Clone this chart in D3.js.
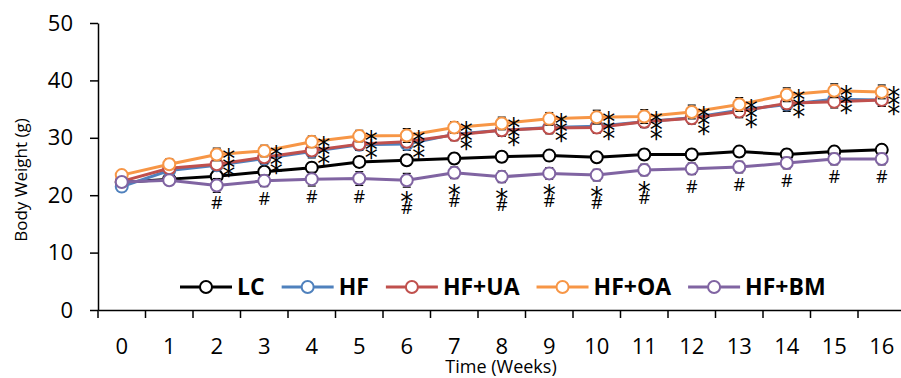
<!DOCTYPE html>
<html>
<head>
<meta charset="utf-8">
<script src="https://cdn.jsdelivr.net/npm/d3@7"></script>
<style>
  body { margin: 0; background: #fff; }
  text { font-family: "Open Sans", sans-serif; }
</style>
</head>
<body>
<div id="chart"></div>
<script>
// weeks on the x axis
var weeks = ["0","1","2","3","4","5","6","7","8","9","10","11","12","13","14","15","16"];
var yTicks = [0, 10, 20, 30, 40, 50];

// body weight (g) per group
var lc = [22.2, 22.8, 23.3, 24.1, 24.8, 25.8, 26.1, 26.4, 26.7, 26.9, 26.6, 27.1, 27.1, 27.6, 27.1, 27.6, 27.9];
var hf = [21.5, 24.3, 25.2, 26.4, 27.6, 28.8, 28.9, 30.6, 31.3, 31.8, 32.0, 32.8, 33.5, 34.8, 35.8, 36.7, 36.6];
var hfUA = [22.4, 24.7, 25.4, 26.6, 27.8, 28.9, 29.3, 30.5, 31.3, 31.7, 31.8, 32.8, 33.4, 34.6, 36.0, 36.3, 36.6];
var hfOA = [23.5, 25.4, 27.1, 27.7, 29.3, 30.3, 30.4, 31.8, 32.5, 33.3, 33.6, 33.7, 34.5, 35.8, 37.5, 38.2, 38.0];
var hfBM = [22.3, 22.6, 21.7, 22.5, 22.8, 22.9, 22.6, 23.9, 23.2, 23.8, 23.5, 24.4, 24.6, 24.9, 25.6, 26.3, 26.3];

// error bars (SEM), mostly hidden behind markers
var lcErr = [0.8, 0.8, 1.1, 0.9, 0.9, 0.9, 0.9, 0.9, 0.9, 0.9, 0.9, 0.9, 0.9, 0.9, 0.9, 0.9, 0.9];
var hfErr = [0.8, 0.9, 1.0, 1.0, 1.1, 1.0, 1.1, 1.0, 1.0, 1.0, 1.0, 1.0, 1.0, 1.1, 1.2, 1.1, 1.1];
var hfUAErr = [0.8, 0.9, 1.0, 1.0, 1.0, 1.0, 1.0, 1.0, 1.0, 1.0, 1.0, 1.0, 1.0, 1.1, 1.1, 1.1, 1.1];
var hfOAErr = [0.8, 0.9, 1.1, 1.0, 1.0, 1.0, 1.2, 1.0, 1.1, 1.1, 1.2, 1.2, 1.2, 1.2, 1.2, 1.2, 1.2];
var hfBMErr = [0.8, 0.8, 1.2, 1.0, 1.2, 1.2, 1.2, 1.0, 1.0, 1.0, 1.0, 1.0, 1.0, 1.0, 1.0, 1.0, 1.0];

// significance marks: stacked * next to the HF groups, * and # under HF+BM
var hfStars = [0, 0, 1, 1, 1, 1, 1, 1, 1, 1, 1, 1, 1, 1, 1, 1, 1];
var bmStar = [0, 0, 0, 0, 0, 0, 1, 1, 1, 1, 1, 1, 0, 0, 0, 0, 0];
var bmHash = [0, 0, 1, 1, 1, 1, 1, 1, 1, 1, 1, 1, 1, 1, 1, 1, 1];

var seriesNames = ["LC", "HF", "HF+UA", "HF+OA", "HF+BM"];
var seriesColors = ["#000000", "#4F81BD", "#C0504D", "#F79646", "#8064A2"];
var seriesValues = [lc, hf, hfUA, hfOA, hfBM];
var seriesErrors = [lcErr, hfErr, hfUAErr, hfOAErr, hfBMErr];

var width = 901;
var height = 378;

var svg = d3.select("#chart").append("svg")
	.attr("width", width)
	.attr("height", height);

var x = d3.scaleBand()
	.domain(weeks)
	.range([98, 905.5])
	.padding(0);

var y = d3.scaleLinear()
	.domain([0, 50])
	.range([310, 23]);

function cx(i)
{
	return x(weeks[i]) + x.bandwidth() / 2;
}

// y axis
var yAxis = svg.append("g")
	.attr("transform", "translate(98,0)")
	.call(d3.axisLeft(y).tickValues(yTicks).tickSize(8).tickSizeOuter(0).tickPadding(17));
yAxis.selectAll("text").style("font-size", "22px").attr("fill", "#000");

// x axis, labels only, ticks drawn between categories
var xAxis = svg.append("g")
	.attr("transform", "translate(0,310)")
	.call(d3.axisBottom(x).tickSize(0).tickSizeOuter(0).tickPadding(28));
xAxis.selectAll("text").style("font-size", "22px").attr("fill", "#000");

for(var k = 0; k <= weeks.length; k++)
{
	var tx = x.range()[0] + k * x.bandwidth();
	xAxis.append("line")
		.attr("x1", tx).attr("x2", tx)
		.attr("y1", 0).attr("y2", 8)
		.attr("stroke", "#000")
		.attr("stroke-width", 1.5);
}

svg.selectAll(".domain").attr("stroke", "#000").attr("stroke-width", 1.5);
svg.selectAll(".tick line").attr("stroke", "#000").attr("stroke-width", 1.5);

// axis titles
svg.append("text")
	.attr("transform", "translate(27,180) rotate(-90)")
	.attr("text-anchor", "middle")
	.style("font-size", "17px")
	.text("Body Weight (g)");

svg.append("text")
	.attr("x", 501)
	.attr("y", 373)
	.attr("text-anchor", "middle")
	.style("font-size", "18px")
	.text("Time (Weeks)");

// series
var line = d3.line()
	.x(function(d, i) { return cx(i); })
	.y(function(d) { return y(d); });

seriesValues.forEach(function(vals, s)
{
	var g = svg.append("g");

	g.append("path")
		.datum(vals)
		.attr("d", line)
		.attr("fill", "none")
		.attr("stroke", seriesColors[s])
		.attr("stroke-width", 3)
		.attr("stroke-linejoin", "round");

	vals.forEach(function(v, i)
	{
		var e = seriesErrors[s][i];
		var top = y(v + e);
		var bot = y(v - e);
		g.append("line")
			.attr("x1", cx(i)).attr("x2", cx(i))
			.attr("y1", top).attr("y2", bot)
			.attr("stroke", "#000").attr("stroke-width", 1);
		g.append("line")
			.attr("x1", cx(i) - 4).attr("x2", cx(i) + 4)
			.attr("y1", top).attr("y2", top)
			.attr("stroke", "#000").attr("stroke-width", 1.2);
		g.append("line")
			.attr("x1", cx(i) - 4).attr("x2", cx(i) + 4)
			.attr("y1", bot).attr("y2", bot)
			.attr("stroke", "#000").attr("stroke-width", 1.2);
	});

	g.selectAll("circle")
		.data(vals)
		.enter()
		.append("circle")
		.attr("cx", function(d, i) { return cx(i); })
		.attr("cy", function(d) { return y(d); })
		.attr("r", 6)
		.attr("fill", "#fff")
		.attr("stroke", seriesColors[s])
		.attr("stroke-width", 2);
});

// asterisks next to the HF groups, one stacked text per week
hfStars.forEach(function(flag, i)
{
	if(!flag) { return; }
	var top = y(hfOA[i]) - 1;
	var t = svg.append("text")
		.attr("x", cx(i) + 12)
		.attr("y", top + 15)
		.attr("text-anchor", "middle")
		.style("font-family", "DejaVu Sans")
		.style("font-size", "26px");
	for(var n = 0; n < 3; n++)
	{
		t.append("tspan")
			.attr("x", cx(i) + 12)
			.attr("dy", n == 0 ? 0 : 8.5)
			.text("*");
	}
});

// marks under HF+BM
hfBM.forEach(function(v, i)
{
	if(!bmHash[i]) { return; }
	var py = y(v);
	var t = svg.append("text")
		.attr("x", cx(i))
		.attr("text-anchor", "middle");
	if(bmStar[i])
	{
		t.attr("y", py + 16 + 15);
		t.append("tspan")
			.attr("x", cx(i))
			.style("font-family", "DejaVu Sans")
			.style("font-size", "26px")
			.text("*");
		t.append("tspan")
			.attr("x", cx(i))
			.attr("dy", 3)
			.style("font-size", "18px")
			.text("#");
	}
	else
	{
		t.attr("y", py + 18 + 6)
			.style("font-size", "18px")
			.text("#");
	}
});

// legend
var legendX = 180;
var legendY = 287;
seriesNames.forEach(function(name, s)
{
	var g = svg.append("g");
	g.append("line")
		.attr("x1", legendX).attr("x2", legendX + 52)
		.attr("y1", legendY).attr("y2", legendY)
		.attr("stroke", seriesColors[s])
		.attr("stroke-width", 3);
	g.append("circle")
		.attr("cx", legendX + 26)
		.attr("cy", legendY)
		.attr("r", 6)
		.attr("fill", "#fff")
		.attr("stroke", seriesColors[s])
		.attr("stroke-width", 2);
	var t = g.append("text")
		.attr("x", legendX + 57)
		.attr("y", legendY + 8)
		.style("font-size", "23px")
		.style("font-weight", "bold")
		.text(name);
	legendX = legendX + 57 + t.node().getComputedTextLength() + 17;
});
</script>
</body>
</html>
